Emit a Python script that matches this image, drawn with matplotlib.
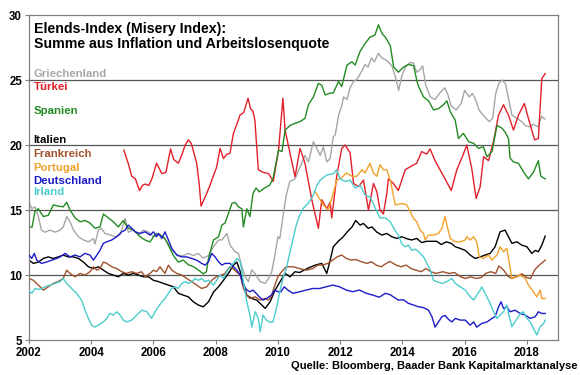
import matplotlib
matplotlib.use("Agg")
import matplotlib.pyplot as plt

plt.rcParams["font.family"] = ["Liberation Sans", "DejaVu Sans"]

# Misery index (inflation + unemployment rate)
greece_x = [2002.0, 2002.09, 2002.19, 2002.3, 2002.4, 2002.51, 2002.68, 2002.84, 2003.0, 2003.1, 2003.21, 2003.32,
            2003.43, 2003.59, 2003.75, 2003.91, 2004.07, 2004.12, 2004.23, 2004.33, 2004.44, 2004.6, 2004.77, 2004.93,
            2005.09, 2005.19, 2005.35, 2005.52, 2005.68, 2005.84, 2006.0, 2006.16, 2006.32, 2006.48, 2006.64, 2006.8,
            2006.96, 2007.12, 2007.28, 2007.44, 2007.6, 2007.77, 2007.93, 2008.09, 2008.2, 2008.36, 2008.46, 2008.62,
            2008.73, 2008.84, 2008.95, 2009.05, 2009.16, 2009.27, 2009.43, 2009.59, 2009.7, 2009.8, 2009.9, 2010.0,
            2010.06, 2010.16, 2010.27, 2010.38, 2010.55, 2010.71, 2010.87, 2010.98, 2011.14, 2011.25, 2011.36, 2011.46,
            2011.57, 2011.68, 2011.78, 2011.84, 2011.95, 2012.05, 2012.11, 2012.22, 2012.32, 2012.43, 2012.54, 2012.7,
            2012.8, 2012.9, 2013.0, 2013.1, 2013.23, 2013.34, 2013.5, 2013.66, 2013.77, 2013.88, 2013.98, 2014.1,
            2014.25, 2014.36, 2014.46, 2014.57, 2014.65, 2014.75, 2014.9, 2015.05, 2015.2, 2015.36, 2015.46, 2015.57,
            2015.73, 2015.89, 2016.0, 2016.15, 2016.25, 2016.36, 2016.46, 2016.63, 2016.79, 2016.9, 2017.0, 2017.1,
            2017.2, 2017.31, 2017.42, 2017.52, 2017.68, 2017.84, 2017.95, 2018.1, 2018.2, 2018.36, 2018.47, 2018.58]
greece_y = [15.6, 15.1, 15.25, 14.5, 13.46, 13.3, 13.46, 13.3, 13.46, 13.7, 14.5, 14.1,
            13.46, 12.95, 12.7, 12.56, 12.8, 12.4, 13.46, 13.6, 13.2, 13.1, 12.95, 13.1,
            14.36, 13.3, 13.46, 13.1, 13.46, 13.3, 12.95, 13.1, 12.95, 12.4, 11.8, 11.5,
            11.5, 11.67, 11.5, 11.67, 11.3, 11.5, 12.18, 12.7, 12.7, 13.2, 12.3, 11.8,
            11.67, 10.64, 9.87, 9.5, 10.4, 10.1, 9.5, 9.36, 9.74, 10.25, 11.5, 12.95,
            12.8, 14.5, 16.15, 17.2, 17.4, 18.3, 19.2, 18.7, 20.26, 19.74, 19.2, 19.87,
            18.7, 18.97, 20.64, 20.77, 22.3, 23.0, 23.7, 23.5, 24.4, 24.9, 25.05, 25.7,
            26.2, 26.0, 26.7, 26.4, 27.05, 26.7, 26.5, 26.1, 25.3, 24.2, 25.3, 26.0,
            26.35, 26.3, 25.6, 25.8, 26.1, 24.6, 23.7, 23.5, 24.0, 24.4, 23.9, 23.0,
            22.7, 23.2, 24.2, 23.7, 23.97, 23.46, 22.7, 22.2, 21.8, 22.05, 23.97, 24.74,
            25.0, 24.74, 23.46, 22.3, 22.05, 21.8, 21.5, 21.4, 21.6, 21.4, 22.2, 22.0]

turkey_x = [2005.05, 2005.2, 2005.3, 2005.42, 2005.55, 2005.65, 2005.73, 2005.85, 2005.95, 2006.1, 2006.27, 2006.4,
            2006.55, 2006.65, 2006.8, 2006.92, 2007.02, 2007.12, 2007.22, 2007.39, 2007.47, 2007.53, 2007.66, 2007.8,
            2007.92, 2008.03, 2008.14, 2008.25, 2008.36, 2008.46, 2008.57, 2008.68, 2008.78, 2008.9, 2009.04, 2009.12,
            2009.2, 2009.26, 2009.37, 2009.53, 2009.7, 2009.85, 2010.02, 2010.16, 2010.23, 2010.39, 2010.55, 2010.71,
            2010.87, 2011.09, 2011.3, 2011.41, 2011.57, 2011.68, 2011.73, 2011.89, 2012.05, 2012.16, 2012.32, 2012.43,
            2012.59, 2012.75, 2012.91, 2013.07, 2013.18, 2013.28, 2013.39, 2013.5, 2013.55, 2013.71, 2013.87, 2014.09,
            2014.3, 2014.46, 2014.62, 2014.78, 2014.89, 2015.05, 2015.21, 2015.37, 2015.57, 2015.75, 2015.91, 2016.07,
            2016.23, 2016.37, 2016.5, 2016.61, 2016.77, 2016.93, 2017.09, 2017.25, 2017.41, 2017.57, 2017.73, 2017.92,
            2018.05, 2018.25, 2018.37, 2018.48, 2018.59]
turkey_y = [19.6, 18.5, 17.6, 17.4, 16.5, 16.9, 17.0, 16.9, 17.4, 18.6, 17.8, 17.9,
            19.7, 18.9, 18.6, 19.3, 20.0, 20.4, 20.1, 18.6, 17.0, 15.3, 16.0, 16.8,
            17.6, 18.3, 19.74, 18.96, 19.3, 19.36, 20.9, 21.6, 22.3, 22.5, 23.6, 22.8,
            22.6, 21.9, 18.1, 17.9, 17.8, 17.2, 19.6, 23.6, 21.15, 19.36, 17.56, 19.74,
            18.6, 15.77, 13.6, 15.8, 15.1, 15.6, 14.4, 17.6, 19.74, 20.0, 19.4, 17.05,
            16.8, 17.3, 15.0, 17.05, 16.4, 15.0, 14.7, 16.3, 17.4, 17.05, 16.5, 18.1,
            18.4, 18.6, 19.5, 19.3, 19.7, 18.8, 18.1, 17.4, 16.5, 18.1, 19.0, 20.0,
            18.2, 15.9, 16.8, 19.1, 18.8, 20.3, 22.3, 23.1, 22.3, 21.15, 22.3, 23.2,
            22.05, 20.4, 20.5, 25.1, 25.5]

spain_x = [2002.0, 2002.1, 2002.19, 2002.3, 2002.46, 2002.62, 2002.78, 2002.94, 2003.1, 2003.21, 2003.32, 2003.48,
           2003.64, 2003.8, 2003.96, 2004.12, 2004.28, 2004.39, 2004.55, 2004.71, 2004.87, 2005.03, 2005.19, 2005.35,
           2005.57, 2005.73, 2005.89, 2006.0, 2006.1, 2006.21, 2006.37, 2006.48, 2006.64, 2006.8, 2006.96, 2007.12,
           2007.28, 2007.44, 2007.6, 2007.7, 2007.77, 2007.93, 2008.09, 2008.2, 2008.3, 2008.41, 2008.52, 2008.62,
           2008.73, 2008.84, 2008.89, 2009.0, 2009.1, 2009.2, 2009.3, 2009.4, 2009.57, 2009.73, 2009.84, 2010.02,
           2010.13, 2010.23, 2010.39, 2010.55, 2010.71, 2010.87, 2010.98, 2011.14, 2011.3, 2011.41, 2011.52, 2011.68,
           2011.78, 2011.95, 2012.05, 2012.22, 2012.38, 2012.48, 2012.64, 2012.8, 2012.96, 2013.12, 2013.23, 2013.34,
           2013.45, 2013.61, 2013.72, 2013.87, 2014.04, 2014.2, 2014.36, 2014.46, 2014.52, 2014.68, 2014.84, 2015.0,
           2015.16, 2015.32, 2015.43, 2015.54, 2015.7, 2015.8, 2015.96, 2016.13, 2016.29, 2016.45, 2016.6, 2016.72,
           2016.88, 2017.04, 2017.2, 2017.3, 2017.41, 2017.46, 2017.57, 2017.73, 2017.89, 2018.05, 2018.21, 2018.37,
           2018.45, 2018.59]
spain_y = [13.7, 13.7, 14.9, 15.1, 14.5, 14.6, 15.4, 15.3, 15.25, 15.6, 15.0, 14.4,
           14.1, 14.2, 14.0, 13.6, 13.7, 14.7, 14.4, 14.1, 13.7, 14.2, 13.6, 13.5,
           12.95, 12.7, 12.55, 12.95, 13.2, 13.1, 12.8, 12.3, 11.5, 11.0, 11.15, 10.8,
           10.65, 10.4, 10.1, 10.25, 11.3, 12.7, 12.95, 13.85, 14.0, 14.75, 15.5, 15.6,
           15.25, 15.1, 13.7, 15.1, 14.5, 16.3, 16.7, 16.4, 16.7, 16.9, 17.4, 19.6,
           19.5, 21.15, 21.5, 21.67, 21.8, 22.05, 23.1, 23.7, 24.74, 24.6, 23.85, 24.0,
           24.0, 24.9, 24.5, 26.15, 26.4, 26.15, 27.2, 27.8, 28.3, 28.46, 29.25, 28.6,
           28.3, 27.65, 26.0, 25.6, 26.0, 26.2, 26.1, 25.0, 24.5, 23.7, 23.4, 22.7,
           22.8, 23.1, 23.4, 22.56, 21.9, 20.5, 20.9, 20.26, 20.13, 19.74, 19.87, 19.1,
           19.5, 21.5, 21.3, 21.0, 20.5, 19.0, 18.7, 18.6, 17.95, 17.4, 17.9, 18.8,
           17.6, 17.4]

italy_x = [2002.0, 2002.14, 2002.3, 2002.46, 2002.62, 2002.78, 2002.94, 2003.1, 2003.26, 2003.43, 2003.59, 2003.75,
           2003.91, 2004.07, 2004.23, 2004.39, 2004.55, 2004.71, 2004.87, 2005.03, 2005.19, 2005.35, 2005.52, 2005.68,
           2005.84, 2006.0, 2006.16, 2006.32, 2006.48, 2006.64, 2006.8, 2006.96, 2007.12, 2007.28, 2007.44, 2007.6,
           2007.77, 2007.93, 2008.09, 2008.25, 2008.41, 2008.57, 2008.68, 2008.79, 2008.89, 2009.0, 2009.16, 2009.32,
           2009.48, 2009.59, 2009.75, 2009.91, 2010.07, 2010.23, 2010.39, 2010.55, 2010.7, 2010.93, 2011.2, 2011.41,
           2011.57, 2011.68, 2011.78, 2011.94, 2012.1, 2012.22, 2012.38, 2012.5, 2012.64, 2012.75, 2012.9, 2013.02,
           2013.18, 2013.34, 2013.5, 2013.66, 2013.82, 2013.98, 2014.14, 2014.3, 2014.46, 2014.62, 2014.78, 2014.94,
           2015.1, 2015.25, 2015.41, 2015.57, 2015.7, 2015.86, 2016.02, 2016.18, 2016.34, 2016.5, 2016.66, 2016.82,
           2016.98, 2017.14, 2017.3, 2017.41, 2017.52, 2017.68, 2017.84, 2018.0, 2018.16, 2018.27, 2018.37, 2018.48,
           2018.59]
italy_y = [11.15, 10.9, 11.0, 11.28, 11.4, 11.28, 11.4, 11.54, 11.4, 11.4, 11.28, 11.0,
           10.64, 10.5, 10.64, 10.38, 10.13, 10.0, 9.87, 10.13, 10.0, 10.13, 10.0, 9.87,
           9.87, 9.6, 9.5, 9.36, 9.23, 9.1, 8.6, 8.46, 8.33, 7.95, 7.7, 7.56,
           7.95, 8.7, 9.1, 9.6, 10.13, 10.77, 11.0, 10.26, 9.36, 8.46, 8.2, 8.08,
           7.7, 7.44, 7.95, 8.85, 9.5, 10.13, 9.87, 10.26, 10.2, 10.5, 10.77, 10.9,
           10.13, 11.15, 12.18, 12.6, 12.95, 13.3, 13.7, 14.2, 13.85, 13.97, 13.6, 13.7,
           13.3, 13.08, 13.2, 12.95, 12.82, 12.95, 12.8, 12.7, 12.82, 12.5, 12.6, 12.6,
           12.6, 12.35, 12.56, 12.44, 12.18, 12.05, 11.9, 11.54, 11.28, 11.4, 11.54, 11.67,
           12.18, 13.33, 13.46, 12.95, 12.44, 12.56, 12.3, 12.18, 11.67, 11.9, 11.8, 12.3,
           13.0]

france_x = [2002.0, 2002.14, 2002.3, 2002.46, 2002.62, 2002.78, 2002.94, 2003.1, 2003.21, 2003.32, 2003.48, 2003.64,
            2003.8, 2003.96, 2004.07, 2004.18, 2004.28, 2004.39, 2004.5, 2004.66, 2004.82, 2004.98, 2005.14, 2005.3,
            2005.46, 2005.62, 2005.73, 2005.89, 2006.0, 2006.1, 2006.21, 2006.37, 2006.48, 2006.59, 2006.75, 2006.91,
            2007.07, 2007.23, 2007.39, 2007.55, 2007.71, 2007.87, 2008.02, 2008.18, 2008.3, 2008.45, 2008.55, 2008.66,
            2008.79, 2008.89, 2009.0, 2009.1, 2009.27, 2009.43, 2009.59, 2009.7, 2009.8, 2009.9, 2010.0, 2010.12,
            2010.27, 2010.49, 2010.7, 2010.91, 2011.12, 2011.28, 2011.44, 2011.6, 2011.76, 2011.9, 2012.05, 2012.2,
            2012.36, 2012.5, 2012.68, 2012.86, 2013.0, 2013.16, 2013.32, 2013.48, 2013.6, 2013.8, 2013.96, 2014.12,
            2014.28, 2014.44, 2014.6, 2014.76, 2014.92, 2015.08, 2015.3, 2015.5, 2015.68, 2015.87, 2016.03, 2016.2,
            2016.36, 2016.52, 2016.68, 2016.84, 2017.0, 2017.1, 2017.25, 2017.4, 2017.52, 2017.7, 2017.84, 2018.0,
            2018.12, 2018.25, 2018.4, 2018.59]
france_y = [9.74, 9.6, 9.23, 8.85, 9.1, 9.36, 9.5, 9.74, 10.38, 10.13, 9.87, 10.13,
            10.0, 10.26, 10.64, 10.38, 10.5, 11.0, 10.9, 10.64, 10.5, 10.26, 10.13, 10.26,
            10.13, 10.26, 9.87, 10.13, 10.38, 10.26, 10.64, 10.13, 10.77, 10.38, 10.13, 10.0,
            9.74, 9.5, 9.23, 8.97, 9.1, 9.6, 9.87, 10.0, 10.13, 10.64, 10.5, 10.26,
            10.0, 8.97, 8.46, 8.2, 8.33, 8.08, 8.2, 8.08, 8.46, 9.23, 9.87, 10.26,
            10.64, 10.64, 10.5, 10.38, 10.5, 10.77, 10.77, 10.9, 11.15, 11.4, 11.54, 11.28,
            11.15, 11.2, 11.03, 10.9, 11.03, 10.77, 10.64, 10.9, 11.05, 10.77, 10.64, 10.77,
            10.5, 10.38, 10.26, 10.5, 10.26, 10.13, 10.26, 10.13, 10.2, 9.87, 9.74, 9.87,
            9.74, 9.8, 10.13, 10.26, 10.13, 10.7, 10.4, 9.9, 9.74, 9.9, 10.1, 9.8,
            9.74, 10.4, 10.77, 11.15]

portugal_x = [2011.2, 2011.3, 2011.46, 2011.62, 2011.78, 2011.89, 2012.05, 2012.2, 2012.38, 2012.54, 2012.7, 2012.8,
              2012.96, 2013.07, 2013.18, 2013.28, 2013.39, 2013.5, 2013.62, 2013.77, 2013.98, 2014.14, 2014.25, 2014.36,
              2014.46, 2014.57, 2014.68, 2014.73, 2014.84, 2015.0, 2015.16, 2015.27, 2015.37, 2015.43, 2015.54, 2015.7,
              2015.86, 2016.02, 2016.07, 2016.18, 2016.29, 2016.39, 2016.47, 2016.61, 2016.77, 2016.88, 2017.04, 2017.14,
              2017.25, 2017.36, 2017.41, 2017.52, 2017.62, 2017.79, 2017.95, 2018.05, 2018.21, 2018.32, 2018.43, 2018.48,
              2018.59]
portugal_y = [16.4, 16.0, 15.4, 15.0, 16.3, 17.3, 17.5, 17.85, 17.6, 17.6, 18.1, 17.85,
              18.6, 17.85, 17.6, 18.5, 18.1, 18.1, 17.2, 15.4, 15.5, 15.4, 14.87, 14.36,
              14.1, 13.46, 13.2, 12.7, 13.08, 13.08, 13.2, 13.6, 14.5, 13.85, 12.8, 12.56,
              12.56, 12.7, 12.95, 12.7, 12.95, 12.56, 11.4, 11.28, 11.54, 11.15, 11.54, 12.18,
              11.8, 12.05, 11.28, 9.74, 9.87, 10.0, 9.74, 9.23, 8.72, 8.33, 8.85, 8.2,
              8.2]

germany_x = [2002.0, 2002.09, 2002.17, 2002.25, 2002.4, 2002.56, 2002.73, 2002.89, 2003.0, 2003.16, 2003.32, 2003.48,
             2003.64, 2003.8, 2003.96, 2004.07, 2004.18, 2004.28, 2004.39, 2004.5, 2004.66, 2004.82, 2004.98, 2005.09,
             2005.19, 2005.3, 2005.41, 2005.57, 2005.73, 2005.89, 2006.0, 2006.1, 2006.16, 2006.27, 2006.37, 2006.48,
             2006.59, 2006.75, 2006.91, 2007.07, 2007.23, 2007.39, 2007.55, 2007.66, 2007.77, 2007.87, 2007.98, 2008.09,
             2008.2, 2008.3, 2008.46, 2008.57, 2008.68, 2008.79, 2008.89, 2009.0, 2009.1, 2009.2, 2009.3, 2009.4,
             2009.52, 2009.63, 2009.79, 2009.89, 2010.0, 2010.1, 2010.2, 2010.32, 2010.48, 2010.7, 2010.91, 2011.12,
             2011.34, 2011.55, 2011.76, 2011.98, 2012.2, 2012.4, 2012.62, 2012.84, 2013.05, 2013.26, 2013.45, 2013.6,
             2013.87, 2014.03, 2014.2, 2014.36, 2014.52, 2014.68, 2014.84, 2014.95, 2015.05, 2015.16, 2015.27, 2015.37,
             2015.48, 2015.59, 2015.7, 2015.86, 2016.02, 2016.18, 2016.29, 2016.39, 2016.55, 2016.72, 2016.88, 2016.98,
             2017.09, 2017.17, 2017.25, 2017.36, 2017.46, 2017.62, 2017.79, 2017.95, 2018.11, 2018.27, 2018.37, 2018.48,
             2018.59]
germany_y = [11.54, 11.28, 11.67, 11.15, 10.9, 11.0, 11.15, 11.28, 11.4, 11.67, 11.4, 11.54,
             11.4, 11.67, 11.54, 11.15, 11.54, 11.9, 12.44, 12.56, 12.7, 12.95, 13.33, 13.46,
             13.85, 13.6, 13.33, 13.2, 13.33, 13.08, 13.33, 12.95, 13.2, 12.82, 13.33, 12.7,
             12.05, 11.54, 11.4, 11.4, 11.28, 11.15, 10.9, 10.77, 11.03, 11.67, 11.4, 11.03,
             10.77, 10.9, 10.9, 10.64, 10.38, 10.0, 9.23, 8.85, 8.72, 8.85, 8.6, 8.33,
             8.08, 8.2, 8.46, 8.85, 8.72, 8.72, 9.1, 8.85, 8.6, 8.72, 8.85, 8.97,
             8.97, 9.1, 9.23, 9.1, 8.85, 8.72, 8.85, 8.6, 8.46, 8.3, 8.6, 8.5,
             8.08, 8.1, 7.82, 7.7, 7.56, 7.5, 7.3, 6.8, 6.0, 6.4, 6.8, 6.9,
             6.6, 6.4, 6.67, 6.54, 6.54, 6.15, 6.4, 6.0, 6.28, 6.4, 6.67, 6.8,
             7.56, 7.95, 7.44, 7.56, 7.18, 7.3, 7.05, 6.92, 6.67, 6.8, 7.18, 7.05,
             7.05]

ireland_x = [2002.0, 2002.09, 2002.19, 2002.35, 2002.51, 2002.68, 2002.84, 2003.0, 2003.1, 2003.21, 2003.37, 2003.53,
             2003.69, 2003.8, 2003.91, 2004.01, 2004.12, 2004.23, 2004.39, 2004.5, 2004.6, 2004.71, 2004.82, 2004.93,
             2005.03, 2005.14, 2005.3, 2005.46, 2005.62, 2005.78, 2005.94, 2006.05, 2006.16, 2006.27, 2006.37, 2006.48,
             2006.59, 2006.69, 2006.8, 2006.91, 2007.02, 2007.12, 2007.23, 2007.34, 2007.44, 2007.55, 2007.66, 2007.77,
             2007.93, 2008.03, 2008.14, 2008.25, 2008.36, 2008.46, 2008.57, 2008.68, 2008.79, 2008.89, 2009.0, 2009.1,
             2009.16, 2009.27, 2009.37, 2009.43, 2009.52, 2009.63, 2009.73, 2009.84, 2009.95, 2010.06, 2010.16, 2010.27,
             2010.38, 2010.49, 2010.59, 2010.7, 2010.81, 2010.97, 2011.13, 2011.25, 2011.36, 2011.57, 2011.78, 2011.89,
             2012.0, 2012.16, 2012.32, 2012.48, 2012.64, 2012.8, 2012.96, 2013.12, 2013.28, 2013.45, 2013.61, 2013.77,
             2013.87, 2013.98, 2014.09, 2014.2, 2014.3, 2014.41, 2014.52, 2014.68, 2014.79, 2014.9, 2015.0, 2015.1,
             2015.27, 2015.43, 2015.59, 2015.7, 2015.86, 2016.02, 2016.18, 2016.29, 2016.39, 2016.5, 2016.55, 2016.66,
             2016.82, 2016.93, 2017.04, 2017.14, 2017.25, 2017.36, 2017.41, 2017.52, 2017.62, 2017.79, 2017.89, 2018.0,
             2018.11, 2018.21, 2018.32, 2018.43, 2018.54, 2018.59]
ireland_y = [8.8, 8.6, 8.97, 8.9, 9.1, 9.23, 9.36, 9.5, 9.74, 9.36, 8.97, 8.6,
             8.08, 7.3, 6.67, 6.15, 6.0, 6.15, 6.4, 6.67, 7.05, 6.92, 7.18, 6.92,
             6.54, 6.4, 6.54, 6.92, 7.3, 7.2, 6.67, 7.18, 7.56, 7.95, 8.2, 8.6,
             8.97, 9.1, 8.97, 9.36, 9.5, 9.36, 9.5, 9.74, 9.6, 9.74, 9.5, 9.6,
             9.23, 9.6, 10.0, 9.74, 10.26, 10.64, 10.9, 11.28, 11.03, 9.5, 7.95, 6.92,
             6.0, 7.18, 6.67, 5.64, 6.92, 6.54, 6.4, 6.4, 7.44, 8.72, 9.74, 10.5,
             11.7, 12.82, 13.85, 14.6, 15.13, 15.5, 16.1, 16.9, 17.3, 17.7, 17.8, 18.1,
             17.4, 17.2, 17.3, 16.7, 16.9, 16.15, 16.0, 15.2, 14.4, 14.4, 14.1, 13.4,
             13.08, 12.4, 12.18, 12.3, 11.9, 12.0, 11.8, 11.4, 10.9, 10.38, 9.6, 9.5,
             9.36, 9.5, 9.74, 9.36, 9.1, 8.85, 8.33, 8.08, 8.46, 8.85, 9.1, 8.6,
             7.82, 7.18, 6.67, 6.92, 7.18, 7.7, 7.05, 6.03, 6.4, 7.05, 7.18, 6.67,
             6.4, 5.9, 5.4, 6.03, 6.28, 6.54]

labels = ["Griechenland", "Türkei", "Spanien", "Italien", "Frankreich", "Portugal", "Deutschland", "Irland"]
colors = ["#a6a6a6", "#e3202a", "#228b22", "#000000", "#a0522d", "#f2a12a", "#1c1cc8", "#4ccccc"]
label_y = [25.45, 24.45, 22.6, 20.4, 19.3, 18.25, 17.25, 16.4]

series = [(greece_x, greece_y), (turkey_x, turkey_y), (spain_x, spain_y), (italy_x, italy_y),
          (france_x, france_y), (portugal_x, portugal_y), (germany_x, germany_y), (ireland_x, ireland_y)]

fig = plt.figure(figsize=(5.8, 3.75), dpi=100)
ax = fig.add_axes([0.05, 0.093, 0.912, 0.867])

for yv in [10, 15, 20, 25]:
    ax.axhline(yv, color="#555555", linewidth=0.9, zorder=1)

draw_order = [0, 2, 3, 4, 5, 7, 6, 1]
for i in draw_order:
    xs, ys = series[i]
    ax.plot(xs, ys, color=colors[i], linewidth=1.0, zorder=2 + i * 0.1)

for name, col, ly in zip(labels, colors, label_y):
    ax.text(2002.15, ly, name, color=col, fontsize=8.2, fontweight="bold", va="center", ha="left")

ax.text(2002.15, 29.5, "Elends-Index (Misery Index):\nSumme aus Inflation und Arbeitslosenquote",
        fontsize=10.2, fontweight="bold", va="top", ha="left", linespacing=1.1)

ax.set_xlim(2002, 2019)
ax.set_ylim(5, 30)
ax.set_xticks(range(2002, 2019, 2))
ax.set_yticks(range(5, 31, 5))
ax.tick_params(axis="both", labelsize=8.3, length=3, width=0.8, color="#808080", pad=2)
for lab in ax.get_xticklabels() + ax.get_yticklabels():
    lab.set_fontweight("bold")
for sp in ax.spines.values():
    sp.set_color("#808080")
    sp.set_linewidth(0.9)

fig.text(0.995, 0.01, "Quelle: Bloomberg, Baader Bank Kapitalmarktanalyse", fontsize=8,
         fontweight="bold", ha="right", va="bottom")

fig.savefig("out.png", dpi=100)
